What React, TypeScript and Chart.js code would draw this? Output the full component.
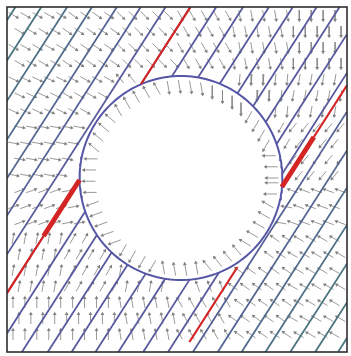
import React, { useEffect, useRef } from "react";
import { Chart, registerables } from "chart.js";
Chart.register(...registerables);

// Diagram coordinates: x 0..342 (left to right), y 0..345 (bottom to top)
const X_MAX = 342;
const Y_MAX = 345;
const circleCenter = { x: 175, y: 174 };
const circleRadius = 102;

// Field lines: straight lines x = offset + run * y, interrupted by the circle
const lineRun = 0.645;
const lineOffsets = [-214, -188, -162, -137, -112, -88, -63, -38, -12, 15, 41, 65, 89, 112, 137, 162, 187, 212, 236, 260, 285, 310, 333];
const lineColors = [
  "#4a7480", "#4a7480", "#4d7086", "#506b8c", "#536692", "#566196", "#585c9b", "#58599e",
  "#58599e", "#58599e", "#58599e", "#58599e", "#58599e", "#58599e", "#58599e", "#58599e",
  "#566196", "#536692", "#506b8c", "#4d7086", "#4a7480", "#4a7480", "#4a7480",
];

// Red segments along particular lines, as y-ranges
const redOffsets = [-38, -38, -38, 170, 170, 177];
const redFromY = [0, 116, 268, 165, 215, 10];
const redToY = [116, 172, 345, 215, 345, 85];
const redWidths = [2.2, 5, 2.2, 5, 2.2, 2.2];

// Arrow field: direction (degrees, counter-clockwise from +x) on a coarse 6x6 grid, rows top to bottom
const fieldAngles = [
  [-30, -35, -45, -60, -80, -90],
  [-25, -30, 130, -70, -95, -100],
  [-10, -10, -20, -100, -120, -130],
  [20, 10, 0, 180, 170, 160],
  [80, 60, 80, 110, 145, 150],
  [90, 90, 100, 120, 145, 150],
];
const arrowStepX = 12;
const arrowStepY = 16;
const arrowLength = 10;

// Halo of arrows just inside the circle: direction by position angle (every 30 degrees from +x)
const haloAngles = [180, -120, -90, -80, 120, 140, 180, 200, 240, 100, 130, 150];
const haloStepDeg = 7;
const haloRadius = 92;
const haloLength = 12;

type P = { x: number; y: number };

function lineSegments(offset: number): P[][] {
  const y0 = Math.max(0, (0 - offset) / lineRun);
  const y1 = Math.min(Y_MAX, (X_MAX - offset) / lineRun);
  if (y1 <= y0) return [];
  const a = 1 + lineRun * lineRun;
  const dx = offset - circleCenter.x;
  const b = 2 * (dx * lineRun - circleCenter.y);
  const c = dx * dx + circleCenter.y * circleCenter.y - circleRadius * circleRadius;
  const disc = b * b - 4 * a * c;
  const pt = (y: number): P => ({ x: offset + lineRun * y, y });
  if (disc <= 0) return [[pt(y0), pt(y1)]];
  const ya = (-b - Math.sqrt(disc)) / (2 * a);
  const yb = (-b + Math.sqrt(disc)) / (2 * a);
  const segs: P[][] = [];
  if (ya > y0) segs.push([pt(y0), pt(Math.min(ya, y1))]);
  if (yb < y1) segs.push([pt(Math.max(yb, y0)), pt(y1)]);
  return segs;
}

function clipSeg(offset: number, fy: number, ty: number): P[] {
  const y0 = Math.max(fy, 0, (0 - offset) / lineRun);
  const y1 = Math.min(ty, Y_MAX, (X_MAX - offset) / lineRun);
  return [{ x: offset + lineRun * y0, y: y0 }, { x: offset + lineRun * y1, y: y1 }];
}

export default function App() {
  const ref = useRef<HTMLCanvasElement | null>(null);
  useEffect(() => {
    if (!ref.current) return;
    const datasets: any[] = [];
    redOffsets.forEach((o, i) => {
      datasets.push({
        data: clipSeg(o, redFromY[i], redToY[i]),
        showLine: true, borderColor: "#d42424", borderWidth: redWidths[i],
        pointRadius: 0, borderCapStyle: "butt", order: 0,
      });
    });
    const circ: P[] = [];
    for (let i = 0; i <= 180; i++) {
      const t = (i / 180) * Math.PI * 2;
      circ.push({ x: circleCenter.x + circleRadius * Math.cos(t), y: circleCenter.y + circleRadius * Math.sin(t) });
    }
    datasets.push({ data: circ, showLine: true, borderColor: "#5656a6", borderWidth: 2, pointRadius: 0, order: 1 });
    lineOffsets.forEach((o, i) => {
      lineSegments(o).forEach((s) => {
        datasets.push({ data: s, showLine: true, borderColor: lineColors[i], borderWidth: 1.8, pointRadius: 0, order: 2 });
      });
    });
    const shafts: P[] = [];
    const tips: P[] = [];
    const rots: number[] = [];
    const addArrow = (cx: number, cy: number, ang: number, len: number) => {
      const r = (ang * Math.PI) / 180;
      const hx = (Math.cos(r) * len) / 2, hy = (Math.sin(r) * len) / 2;
      shafts.push({ x: cx - hx, y: cy - hy }, { x: cx + hx, y: cy + hy }, { x: NaN, y: NaN });
      tips.push({ x: cx + hx, y: cy + hy });
      rots.push(90 - ang);
    };
    let row = 0;
    for (let y = Y_MAX - 8; y > 2; y -= arrowStepY, row++) {
      const shift = row % 2 ? arrowStepX / 2 : 0;
      for (let x = 6 + shift; x < X_MAX - 2; x += arrowStepX) {
        const d = Math.hypot(x - circleCenter.x, y - circleCenter.y);
        if (d < circleRadius + 8) continue;
        const c = Math.min(5, Math.floor(x / (X_MAX / 6)));
        const rr = Math.min(5, Math.floor((Y_MAX - y) / (Y_MAX / 6)));
        addArrow(x, y, fieldAngles[rr][c], arrowLength);
      }
    }
    for (let pa = 0; pa < 360; pa += haloStepDeg) {
      const t = (pa * Math.PI) / 180;
      const ang = haloAngles[Math.floor(((pa + 15) % 360) / 30)];
      addArrow(circleCenter.x + haloRadius * Math.cos(t), circleCenter.y + haloRadius * Math.sin(t), ang, haloLength);
    }
    datasets.push({ data: tips, showLine: false, pointStyle: "triangle", pointRadius: 2.2, pointRotation: rots, backgroundColor: "#808080", borderColor: "#808080", borderWidth: 0, order: 3 });
    datasets.push({ data: shafts, showLine: true, spanGaps: false, borderColor: "rgba(135,135,135,0.85)", borderWidth: 1, pointRadius: 0, order: 4 });

    const frame = {
      id: "frame",
      afterDraw(chart: any) {
        const { ctx, chartArea: a } = chart;
        ctx.save();
        ctx.strokeStyle = "#2e2e2e";
        ctx.lineWidth = 1.6;
        ctx.strokeRect(a.left, a.top, a.right - a.left, a.bottom - a.top);
        ctx.restore();
      },
    };
    const chart = new Chart(ref.current, {
      type: "scatter",
      data: { datasets },
      options: {
        responsive: false,
        animation: false,
        events: [],
        layout: { padding: { left: 7, top: 7, right: 2, bottom: 4 } },
        scales: {
          x: { type: "linear", min: 0, max: X_MAX, display: false },
          y: { type: "linear", min: 0, max: Y_MAX, display: false },
        },
        plugins: { legend: { display: false }, tooltip: { enabled: false } },
      },
      plugins: [frame],
    });
    return () => chart.destroy();
  }, []);
  return (
    <div style={{ position: "absolute", left: 0, top: 0, width: 351, height: 356, background: "#fff" }}>
      <canvas ref={ref} width={351} height={356} style={{ width: 351, height: 356, display: "block" }} />
    </div>
  );
}
